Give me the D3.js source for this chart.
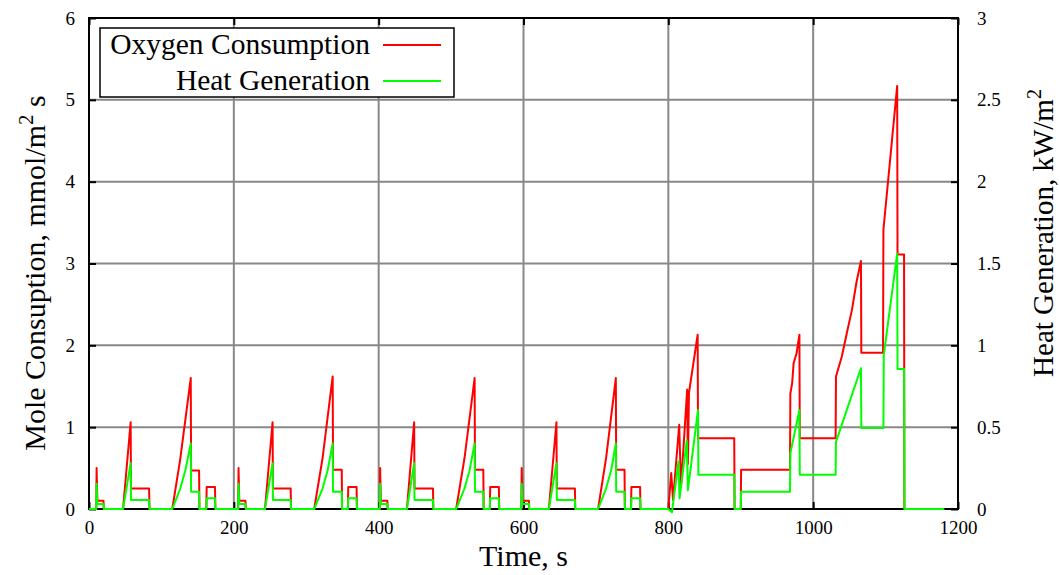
<!DOCTYPE html>
<html><head><meta charset="utf-8">
<script src="https://cdn.jsdelivr.net/npm/d3@7"></script>
<style>
html,body{margin:0;padding:0;background:#fff;}
svg text{font-family:"Liberation Serif","Times New Roman",serif;fill:#000;}
</style></head>
<body>
<svg id="chart" width="1060" height="575"></svg>
<script>
// ---- data ----
const xTicks = [0, 200, 400, 600, 800, 1000, 1200];
const leftTicks = [0, 1, 2, 3, 4, 5, 6];
const rightTicks = [0, 0.5, 1, 1.5, 2, 2.5, 3];
const seriesNames = ["Oxygen Consumption", "Heat Generation"];

// Oxygen consumption, mmol/m^2 s : [time s, value]
const oxygen = [
 [0,0],[10,0],[10.5,0.50],[11.5,0.10],[20,0.10],[20.5,0],[47,0],[57.5,1.06],[58,0.25],[83,0.25],[83.5,0],
 [115,0],[126,0.61],[140.5,1.60],[141,0.47],[152,0.47],[152.5,0],[162,0],[162.5,0.27],[174,0.27],[174.5,0],
 [206,0],[206.5,0.50],[207.5,0.10],[216,0.10],[216.5,0],[243,0],[253.5,1.06],[254,0.25],[278.5,0.25],[279,0],
 [311,0],[322.5,0.62],[336.5,1.62],[337,0.48],[349,0.48],[349.5,0],[357.5,0],[358,0.27],[369.5,0.27],[370,0],
 [401.5,0],[402,0.50],[403,0.10],[412,0.10],[412.5,0],[439,0],[449,1.06],[449.5,0.25],[475,0.25],[475.5,0],
 [507,0],[518.5,0.62],[532.5,1.60],[533,0.48],[544.5,0.48],[545,0],[553.5,0],[554,0.27],[566,0.27],[566.5,0],
 [597,0],[597.5,0.50],[598.5,0.10],[607.5,0.10],[608,0],[635,0],[645.5,1.06],[646,0.25],[671,0.25],[671.5,0],
 [703,0],[714,0.62],[727.5,1.60],[728,0.48],[739.5,0.48],[740,0],[748.5,0],[749,0.27],[761,0.27],[761.5,0],
 [800,0],[804,0.44],[806.5,0.11],[815,1.03],[817.5,0.27],[826,1.46],[827,0.55],[828.5,1.42],[840.5,2.13],
 [841,0.865],[891,0.865],[891.5,0],[900,0],[900.5,0.48],[968,0.48],[968.5,1.41],[971,1.54],[973,1.78],[977,1.90],
 [981,2.13],[981.5,0.865],[1031,0.865],[1031.5,1.62],[1039.5,1.86],[1046.5,2.15],[1053.5,2.43],[1060,2.78],
 [1066,3.03],[1066.5,1.91],[1096.5,1.91],[1097,3.41],[1116,5.17],[1116.5,3.11],[1125.5,3.11],[1126,0],[1181,0]
];

// Heat generation, kW/m^2 : [time s, value]
const heat = [
 [0,0],[10,0],[10.5,0.155],[11.5,0.03],[20,0.03],[20.5,0],[47,0],[57.5,0.28],[58,0.055],[83,0.055],[83.5,0],
 [115,0],[126,0.125],[133,0.235],[140.5,0.40],[141,0.105],[152,0.105],[152.5,0],[162,0],[162.5,0.065],[174,0.065],[174.5,0],
 [206,0],[206.5,0.155],[207.5,0.03],[216,0.03],[216.5,0],[243,0],[253.5,0.28],[254,0.055],[278.5,0.055],[279,0],
 [311,0],[322.5,0.125],[329.5,0.235],[336.5,0.40],[337,0.105],[349,0.105],[349.5,0],[357.5,0],[358,0.065],[369.5,0.065],[370,0],
 [401.5,0],[402,0.155],[403,0.03],[412,0.03],[412.5,0],[439,0],[449,0.28],[449.5,0.055],[475,0.055],[475.5,0],
 [507,0],[518.5,0.125],[525.5,0.235],[532.5,0.40],[533,0.105],[544.5,0.105],[545,0],[553.5,0],[554,0.065],[566,0.065],[566.5,0],
 [597,0],[597.5,0.155],[598.5,0.03],[607.5,0.03],[608,0],[635,0],[645.5,0.28],[646,0.055],[671,0.055],[671.5,0],
 [703,0],[714,0.125],[721,0.235],[727.5,0.40],[728,0.105],[739.5,0.105],[740,0],[748.5,0],[749,0.065],[761,0.065],[761.5,0],
 [800,0],[805,-0.02],[814,0.29],[815.5,0.065],[825.5,0.42],[827,0.115],[841,0.605],[841.5,0.21],[891,0.21],[891.5,0],
 [900,0],[900.5,0.105],[968,0.105],[968.5,0.34],[981,0.605],[981.5,0.21],[1031,0.21],[1031.5,0.41],[1066,0.86],
 [1066.5,0.495],[1097,0.495],[1097.5,0.94],[1116,1.56],[1116.5,0.855],[1125.5,0.855],[1126,0],[1181,0]
];

// ---- layout ----
const L = 89, R = 958, T = 18, B = 509;
const FONT = '"Liberation Serif","Times New Roman",serif';
const svg = d3.select("#chart");
const x = d3.scaleLinear().domain([0, 1200]).range([L, R]);
const yL = d3.scaleLinear().domain([0, 6]).range([B, T]);
const yR = d3.scaleLinear().domain([0, 3]).range([B, T]);

// grid
const grid = svg.append("g").attr("stroke", "#888").attr("stroke-width", 2);
grid.selectAll("line.v").data(xTicks.slice(1, -1)).join("line")
  .attr("x1", d => x(d)).attr("x2", d => x(d)).attr("y1", T).attr("y2", B);
grid.selectAll("line.h").data(leftTicks.slice(1, -1)).join("line")
  .attr("y1", d => yL(d)).attr("y2", d => yL(d)).attr("x1", L).attr("x2", R);

// axes (inward ticks)
function styleAxis(g) {
  g.attr("font-family", FONT);
  g.select(".domain").remove();
  g.selectAll(".tick line").attr("stroke", "#000").attr("stroke-width", 2);
  g.selectAll(".tick text").style("font-family", FONT).style("font-size", "19px").attr("fill", "#000");
}
svg.append("g").attr("transform", `translate(0,${B})`)
  .call(d3.axisBottom(x).tickValues(xTicks).tickSize(-7).tickPadding(12).tickFormat(d3.format("d")))
  .call(styleAxis);
svg.append("g").attr("transform", `translate(0,${T})`)
  .call(d3.axisTop(x).tickValues(xTicks).tickSize(-7).tickFormat(""))
  .call(styleAxis);
svg.append("g").attr("transform", `translate(${L},0)`)
  .call(d3.axisLeft(yL).tickValues(leftTicks).tickSize(-7).tickPadding(14).tickFormat(d3.format("d")))
  .call(styleAxis);
svg.append("g").attr("transform", `translate(${R},0)`)
  .call(d3.axisRight(yR).tickValues(rightTicks).tickSize(-7).tickPadding(19).tickFormat(d => String(d)))
  .call(styleAxis);

// frame
svg.append("rect").attr("x", L).attr("y", T).attr("width", R - L).attr("height", B - T)
  .attr("fill", "none").attr("stroke", "#000").attr("stroke-width", 2);

// curves
const lineO = d3.line().x(d => x(d[0])).y(d => yL(d[1]));
const lineH = d3.line().x(d => x(d[0])).y(d => yR(d[1]));
svg.append("path").datum(oxygen).attr("d", lineO).attr("fill", "none")
  .attr("stroke", "#ff0000").attr("stroke-width", 2).attr("stroke-linejoin", "round");
svg.append("path").datum(heat).attr("d", lineH).attr("fill", "none")
  .attr("stroke", "#00ff00").attr("stroke-width", 2).attr("stroke-linejoin", "round");

// axis titles
svg.append("text").attr("x", x(600)).attr("y", 566).attr("text-anchor", "middle")
  .style("font-size", "30px").text("Time, s");

const lt = svg.append("text").attr("transform", `translate(45,273) rotate(-90)`)
  .attr("text-anchor", "middle").style("font-size", "30px");
lt.append("tspan").text("Mole Consuption, mmol/m");
lt.append("tspan").attr("dy", -12).style("font-size", "21px").text("2");
lt.append("tspan").attr("dy", 12).text(" s");

const rt = svg.append("text").attr("transform", `translate(1053,233) rotate(-90)`)
  .attr("text-anchor", "middle").style("font-size", "29px");
rt.append("tspan").text("Heat Generation, kW/m");
rt.append("tspan").attr("dy", -12).style("font-size", "20px").text("2");

// legend
const lg = svg.append("g");
lg.append("rect").attr("x", 100).attr("y", 28).attr("width", 354).attr("height", 69)
  .attr("fill", "#fff").attr("stroke", "#000").attr("stroke-width", 1.5);
const legendColors = ["#ff0000", "#00ff00"];
seriesNames.forEach((name, i) => {
  const yy = 45 + i * 36;
  lg.append("text").attr("x", 370).attr("y", yy + 9).attr("text-anchor", "end")
    .style("font-size", "29.5px").text(name);
  lg.append("line").attr("x1", 383).attr("x2", 441).attr("y1", yy).attr("y2", yy)
    .attr("stroke", legendColors[i]).attr("stroke-width", 2);
});
</script>
</body></html>
